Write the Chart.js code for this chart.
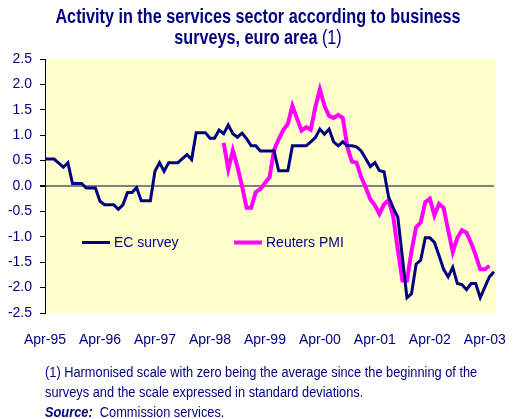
<!DOCTYPE html>
<html>
<head>
<meta charset="utf-8">
<script src="https://cdn.jsdelivr.net/npm/chart.js@4.4.0/dist/chart.umd.min.js"></script>
<style>
  body { margin: 0; background: #fff; }
  #wrap { position: relative; width: 513px; height: 419px; overflow: hidden; }
  #chart { position: absolute; left: 0; top: 0; }
  .title {
    position: absolute; left: 0; top: 6px; width: 516px; text-align: center;
    font: bold 20px "Liberation Sans", Arial, sans-serif;
    line-height: 21px; color: #000080; white-space: nowrap;
    transform: scaleX(0.81); transform-origin: 258px 0;
  }
  .title span { font-weight: normal; }
  .notes {
    position: absolute; left: 45px; top: 362px;
    font: 14px "Liberation Sans", Arial, sans-serif;
    line-height: 20px; color: #000080; white-space: nowrap;
    transform: scaleX(0.915); transform-origin: 0 0;
  }
</style>
</head>
<body>
<div id="wrap">
  <canvas id="chart" width="513" height="419"></canvas>
  <div class="title">Activity in the services sector according to business<br>surveys, euro area <span>(1)</span></div>
  <div class="notes">(1) Harmonised scale with zero being the average since the beginning of the<br>surveys and the scale expressed in standard deviations.<br><b><i>Source:</i></b>&nbsp; Commission services.</div>
</div>
<script>
// months from Apr-95 to Jun-03
const monthNames = ["Jan", "Feb", "Mar", "Apr", "May", "Jun", "Jul", "Aug", "Sep", "Oct", "Nov", "Dec"];
const months = [];
for (let y = 1995, m = 3; y < 2003 || (y === 2003 && m <= 5); m++) {
  if (m === 12) { m = 0; y++; }
  months.push(monthNames[m] + "-" + String(y).slice(2));
}
const tickLabels = ["Apr-95", "Apr-96", "Apr-97", "Apr-98", "Apr-99", "Apr-00", "Apr-01", "Apr-02", "Apr-03"];

const ecSurvey = [
  0.53, 0.53, 0.53, 0.45, 0.37, 0.46, 0.05, 0.05, 0.05, -0.04,
  -0.04, -0.04, -0.3, -0.37, -0.37, -0.37, -0.46, -0.37, -0.13, -0.13,
  -0.03, -0.29, -0.29, -0.29, 0.29, 0.46, 0.29, 0.46, 0.46, 0.46,
  0.54, 0.62, 0.52, 1.05, 1.05, 1.05, 0.94, 0.94, 1.1, 1.03,
  1.2, 1.03, 0.96, 1.04, 0.93, 0.79, 0.79, 0.69, 0.69, 0.69,
  0.69, 0.3, 0.3, 0.3, 0.79, 0.79, 0.79, 0.79, 0.87, 0.95,
  1.12, 1.02, 1.12, 0.87, 0.79, 0.87, 0.79, 0.79, 0.77, 0.69,
  0.54, 0.38, 0.46, 0.3, 0.28, -0.22, -0.43, -0.61, -1.4, -2.2,
  -2.12, -1.54, -1.46, -1.02, -1.02, -1.11, -1.37, -1.64, -1.79, -1.6,
  -1.92, -1.94, -2.04, -1.92, -1.92, -2.2, -1.99, -1.79, -1.69
];

// Reuters PMI starts Jul-98
const pmiStart = "Jul-98";
const reutersPmi = [
  0.85, 0.33, 0.7, 0.38, 0.0, -0.43, -0.43, -0.12, -0.06, 0.06,
  0.17, 0.71, 0.92, 1.1, 1.22, 1.58, 1.33, 1.09, 1.16, 1.11,
  1.55, 1.9, 1.58, 1.38, 1.34, 1.4, 1.34, 0.76, 0.48, 0.46,
  0.18, -0.03, -0.26, -0.38, -0.55, -0.36, -0.28, -0.6, -1.25, -1.86,
  -1.86, -1.28, -0.81, -0.72, -0.32, -0.25, -0.58, -0.35, -0.43, -0.87,
  -1.3, -1.02, -0.87, -0.92, -1.12, -1.36, -1.64, -1.64, -1.57
];

const navy = "#000080";
const magenta = "#ff00ff";
const pmiData = Array(months.indexOf(pmiStart)).fill(null).concat(reutersPmi);

const plotBg = {
  id: "plotBg",
  beforeDraw(chart) {
    const { ctx, chartArea: a } = chart;
    ctx.save();
    ctx.fillStyle = "#ffffcc";
    ctx.fillRect(a.left, a.top, a.right - a.left + 2, a.bottom - a.top);
    ctx.restore();
  },
};

const insideLegend = {
  id: "insideLegend",
  afterDraw(chart) {
    const { ctx } = chart;
    const items = [
      { text: "EC survey", color: navy, width: 3, x: 82 },
      { text: "Reuters PMI", color: magenta, width: 4, x: 234 },
    ];
    ctx.save();
    ctx.font = "14px 'Liberation Sans', Arial, sans-serif";
    ctx.textBaseline = "middle";
    items.forEach((it) => {
      ctx.strokeStyle = it.color;
      ctx.lineWidth = it.width;
      ctx.beginPath();
      ctx.moveTo(it.x, 242.5);
      ctx.lineTo(it.x + 28, 242.5);
      ctx.stroke();
      ctx.fillStyle = navy;
      ctx.fillText(it.text, it.x + 32, 243);
    });
    ctx.restore();
  },
};

const config = {
  type: "line",
  data: {
    labels: months,
    datasets: [
      {
        label: "EC survey",
        data: ecSurvey,
        borderColor: navy,
        borderWidth: 3,
        pointRadius: 0,
        tension: 0,
      },
      {
        label: "Reuters PMI",
        data: pmiData,
        borderColor: magenta,
        borderWidth: 4,
        pointRadius: 0,
        tension: 0,
      },
    ],
  },
  options: {
    responsive: false,
    animation: false,
    layout: { padding: { left: 0, right: 12, top: 59, bottom: 66 } },
    plugins: {
      legend: { display: false },
      tooltip: { enabled: false },
    },
    scales: {
      x: {
        offset: false,
        grid: { display: false, drawTicks: false },
        border: { display: false },
        afterFit: (scale) => { scale.height = 40; },
        ticks: {
          autoSkip: false,
          maxRotation: 0,
          padding: 19,
          color: navy,
          font: { family: "'Liberation Sans', Arial, sans-serif", size: 14 },
          callback: function (value) {
            const lab = this.getLabelForValue(value);
            return tickLabels.includes(lab) ? lab : "";
          },
        },
      },
      y: {
        min: -2.5,
        max: 2.5,
        afterFit: (scale) => { scale.width = 45; },
        border: { display: true, color: "#000", width: 1 },
        grid: {
          drawOnChartArea: true,
          tickLength: 5,
          tickColor: "#000",
          color: (c) => (c.tick && c.tick.value === 0 ? "#808080" : "rgba(0,0,0,0)"),
          lineWidth: (c) => (c.tick && c.tick.value === 0 ? 2 : 1),
        },
        ticks: {
          stepSize: 0.5,
          padding: 8,
          color: navy,
          font: { family: "'Liberation Sans', Arial, sans-serif", size: 14 },
          callback: (v) => v.toFixed(1),
        },
      },
    },
  },
  plugins: [plotBg, insideLegend],
};

new Chart(document.getElementById("chart"), config);
</script>
</body>
</html>
